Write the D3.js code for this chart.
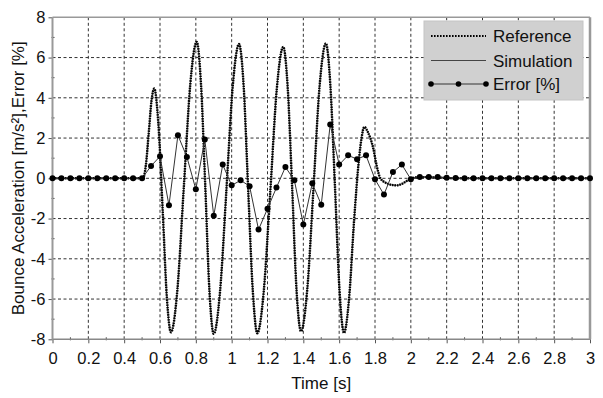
<!DOCTYPE html>
<html><head><meta charset="utf-8">
<script src="https://cdn.jsdelivr.net/npm/d3@7"></script>
<style>
html,body{margin:0;padding:0;background:#fff;}
svg{display:block;font-family:"Liberation Sans",Arial,sans-serif;}
</style></head>
<body><svg id="c" width="603" height="398"></svg>
<script>
// ---- data ----
const refTime = [0,0.505,0.521,0.537,0.552,0.568,0.591,0.615,0.638,0.661,0.697,0.733,0.769,0.805,0.829,0.853,0.876,0.900,0.935,0.971,1.006,1.041,1.067,1.092,1.118,1.143,1.179,1.216,1.252,1.288,1.313,1.338,1.362,1.387,1.422,1.457,1.491,1.526,1.551,1.577,1.602,1.627,1.655,1.684,1.710,1.725,1.740,1.760,1.790,1.810,1.830,1.860,1.890,1.920,1.950,1.980,2.005,2.050,2.150,2.250,3.0];
const refValue = [0,0,0.65,2.23,3.81,4.46,2.69,-1.60,-5.88,-7.65,-5.54,-0.43,4.67,6.78,4.66,-0.48,-5.61,-7.73,-5.63,-0.53,4.57,6.67,4.57,-0.52,-5.60,-7.70,-5.62,-0.59,4.45,6.53,4.47,-0.54,-5.54,-7.60,-5.51,-0.45,4.61,6.70,4.60,-0.49,-5.58,-7.68,-6.0,-2.0,0.9,2.0,2.55,2.3,1.5,0.6,0.0,-0.22,-0.32,-0.35,-0.28,-0.12,0.0,0.06,0.04,0.0,0];
const simValue = [0,0,0.66,2.25,3.82,4.45,2.68,-1.62,-5.90,-7.64,-5.52,-0.42,4.68,6.77,4.65,-0.49,-5.62,-7.72,-5.62,-0.52,4.58,6.66,4.56,-0.53,-5.61,-7.69,-5.61,-0.58,4.46,6.52,4.46,-0.55,-5.55,-7.59,-5.50,-0.44,4.62,6.69,4.59,-0.50,-5.59,-7.67,-5.99,-1.99,0.91,2.01,2.54,2.29,1.49,0.59,0.0,-0.22,-0.32,-0.35,-0.28,-0.12,0.0,0.06,0.04,0.0,0];
const errTime = [0,0.05,0.1,0.15,0.2,0.25,0.3,0.35,0.4,0.45,0.5,0.55,0.6,0.65,0.7,0.75,0.8,0.85,0.9,0.95,1.0,1.05,1.1,1.15,1.2,1.25,1.3,1.35,1.4,1.45,1.5,1.55,1.6,1.65,1.7,1.75,1.8,1.85,1.9,1.95,2.0,2.05,2.1,2.15,2.2,2.25,2.3,2.35,2.4,2.45,2.5,2.55,2.6,2.65,2.7,2.75,2.8,2.85,2.9,2.95,3.0];
const errValue = [0,0,0,0,0,0,0,0,0,0,0,0.61,1.09,-1.34,2.14,1.06,-0.55,1.93,-1.86,0.68,-0.35,-0.10,-0.39,-2.55,-1.51,-0.46,0.56,-0.10,-2.30,-0.25,-1.31,2.67,0.68,1.14,0.95,1.14,-0.05,-0.81,0.31,0.68,-0.05,0.07,0.07,0.06,0.03,0.01,0,0,0,0,0,0,0,0,0,0,0,0,0,0,0];
const xTicks = [0,0.2,0.4,0.6,0.8,1,1.2,1.4,1.6,1.8,2,2.2,2.4,2.6,2.8,3];
const xTickLabels = ["0","0.2","0.4","0.6","0.8","1","1.2","1.4","1.6","1.8","2","2.2","2.4","2.6","2.8","3"];
const yTicks = [-8,-6,-4,-2,0,2,4,6,8];
const yTickLabels = ["-8","-6","-4","-2","0","2","4","6","8"];
const legendLabels = ["Reference","Simulation","Error [%]"];
const xTitle = "Time [s]";
const yTitle = "Bounce Acceleration [m/s\u00B2],Error [%]";

// ---- layout ----
const svg = d3.select("#c");
const L = 52.5, R = 590, T = 17.3, B = 339.3;
const x = d3.scaleLinear().domain([0,3]).range([L,R]);
const y = d3.scaleLinear().domain([-8,8]).range([B,T]);

// grid
const grid = svg.append("g");
grid.selectAll(".gx").data(xTicks.slice(1,-1)).join("line")
  .attr("x1",d=>x(d)).attr("x2",d=>x(d)).attr("y1",T).attr("y2",B)
  .attr("stroke","#333").attr("stroke-width",1).attr("stroke-dasharray","3,2.5");
grid.selectAll(".gy").data(yTicks.slice(1,-1)).join("line")
  .attr("x1",L).attr("x2",R).attr("y1",d=>y(d)).attr("y2",d=>y(d))
  .attr("stroke","#333").attr("stroke-width",1).attr("stroke-dasharray","3,2.5");

// axes
const xAxis = d3.axisBottom(x).tickValues(xTicks).tickFormat((d,i)=>xTickLabels[i]).tickSize(4).tickPadding(9);
const gx = svg.append("g").attr("transform",`translate(0,${B})`).call(xAxis);
const yAxis = d3.axisLeft(y).tickValues(yTicks).tickFormat((d,i)=>yTickLabels[i]).tickSize(4).tickPadding(3);
const gy = svg.append("g").attr("transform",`translate(${L},0)`).call(yAxis);
[gx,gy].forEach(g=>{
  g.select(".domain").remove();
  g.selectAll(".tick line").attr("stroke","#555");
  g.selectAll(".tick text").attr("fill","#111").style("font-size","16.5px").style("font-family","'Liberation Sans',Arial,sans-serif");
});
// minor ticks
const xMinor = d3.range(0.1,3,0.2);
svg.append("g").selectAll("line").data(xMinor).join("line")
  .attr("x1",d=>x(d)).attr("x2",d=>x(d)).attr("y1",B-2).attr("y2",B+1).attr("stroke","#444");
const yMinor = d3.range(-7,8,2);
svg.append("g").selectAll("line").data(yMinor).join("line")
  .attr("x1",L-1).attr("x2",L+2).attr("y1",d=>y(d)).attr("y2",d=>y(d)).attr("stroke","#444");

// frame
svg.append("line").attr("x1",L).attr("x2",R).attr("y1",T).attr("y2",T).attr("stroke","#999").attr("stroke-width",1.5);
svg.append("line").attr("x1",L).attr("x2",R).attr("y1",B).attr("y2",B).attr("stroke","#888").attr("stroke-width",1.5);
svg.append("line").attr("x1",L).attr("x2",L).attr("y1",T).attr("y2",B).attr("stroke","#999").attr("stroke-width",2);
svg.append("line").attr("x1",R).attr("x2",R).attr("y1",T).attr("y2",B).attr("stroke","#999").attr("stroke-width",2.5);

// series
const refData = refTime.map((t,i)=>[t,refValue[i]]);
const simData = refTime.map((t,i)=>[t,simValue[i]]);
const errData = errTime.map((t,i)=>[t,errValue[i]]);
const lineSmooth = d3.line().x(d=>x(d[0])).y(d=>y(d[1])).curve(d3.curveMonotoneX);
const lineStraight = d3.line().x(d=>x(d[0])).y(d=>y(d[1]));

svg.append("path").datum(simData).attr("d",lineSmooth).attr("fill","none").attr("stroke","#444").attr("stroke-width",1);
svg.append("path").datum(refData).attr("d",lineSmooth).attr("fill","none").attr("stroke","#000").attr("stroke-width",2.4).attr("stroke-dasharray","1.6,0.9");
svg.append("path").datum(errData).attr("d",lineStraight).attr("fill","none").attr("stroke","#333").attr("stroke-width",1);
svg.append("g").selectAll("circle").data(errData).join("circle")
  .attr("cx",d=>x(d[0])).attr("cy",d=>y(d[1])).attr("r",3).attr("fill","#000");

// titles
svg.append("text").attr("x",(L+R)/2).attr("y",389).attr("text-anchor","middle")
  .style("font-size","17px").attr("fill","#111").text(xTitle);
svg.append("text").attr("transform",`translate(24,${(T+B)/2}) rotate(-90)`).attr("text-anchor","middle")
  .style("font-size","17px").attr("fill","#111").text(yTitle);

// legend
const lg = svg.append("g");
lg.append("rect").attr("x",424).attr("y",21).attr("width",159).attr("height",79).attr("fill","#d0d0d0").attr("stroke","#c4c4c4");
const rowY = [36,60.5,84];
lg.append("line").attr("x1",431).attr("x2",486).attr("y1",rowY[0]).attr("y2",rowY[0]).attr("stroke","#000").attr("stroke-width",2).attr("stroke-dasharray","1.6,1.4");
lg.append("line").attr("x1",431).attr("x2",486).attr("y1",rowY[1]).attr("y2",rowY[1]).attr("stroke","#444").attr("stroke-width",1);
lg.append("line").attr("x1",431).attr("x2",486).attr("y1",rowY[2]).attr("y2",rowY[2]).attr("stroke","#333").attr("stroke-width",1);
lg.selectAll("circle").data([431,458.5,486]).join("circle").attr("cx",d=>d).attr("cy",rowY[2]).attr("r",2.8).attr("fill","#000");
lg.selectAll("text").data(legendLabels).join("text").attr("x",493).attr("y",(d,i)=>rowY[i]+6)
  .style("font-size","17px").attr("fill","#111").text(d=>d);
</script></body></html>
